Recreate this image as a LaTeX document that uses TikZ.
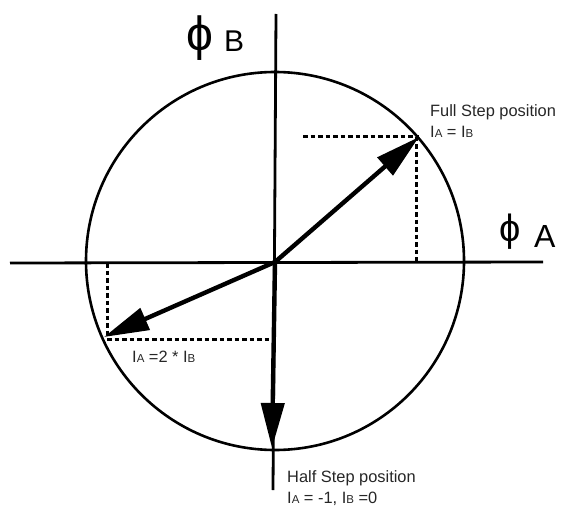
\documentclass[tikz,border=0pt]{standalone}
\usepackage{fontspec}
\setmainfont{Liberation Sans}
\usetikzlibrary{arrows.meta}
\newcommand\Isb[1]{I{\fontsize{11.5}{11.5}\selectfont #1}}
\begin{document}
\begin{tikzpicture}[x=1pt,y=-1pt,
  axis/.style={line width=2.8pt},
  ring/.style={line width=2.6pt},
  vec/.style={line width=4.4pt,-{Triangle[length=45pt,width=23pt]}},
  proj/.style={line width=3pt,dash pattern=on 4.5pt off 3pt},
  small/.style={font=\fontsize{16.4}{18}\selectfont,text=black!85,inner sep=0pt,anchor=base west},
  big/.style={inner sep=0pt,anchor=base west},
  phi/.style={inner sep=0pt,anchor=center}]
\useasboundingbox (0,0) rectangle (569,505);
% coordinates
\coordinate (C) at (275,261);
\coordinate (O) at (275,262);
\coordinate (HL) at (10,263);
\coordinate (HR) at (543,262);
\coordinate (VT) at (276,14);
\coordinate (VB) at (273,490);
\coordinate (F) at (419,137);
\coordinate (H) at (104,337);
\coordinate (D) at (272,448);
\coordinate (FH) at (303,137);
\coordinate (FV) at (416,262);
\coordinate (HV) at (107,263);
\coordinate (HH) at (275,339);
% axes and circle
\draw[axis] (HL) -- (HR);
\draw[axis] (VT) -- (VB);
\draw[ring] (C) circle[radius=189];
% projections
\draw[proj] (FH) -- (F);
\draw[proj] (F) ++(-3,0) |- (FV);
\draw[proj] (HV) -- (HV |- H);
\draw[proj] (HV |- HH) -- (HH);
% vectors
\draw[vec] (O) -- (F);
\draw[vec] (O) -- (H);
\draw[vec] (O) -- (D);
% labels
\node[phi,font=\fontsize{48}{48}\selectfont] (pb) at (200,38) {ϕ};
\node[big,font=\fontsize{30}{32}\selectfont] (lb) at (224,52) {B};
\node[phi,font=\fontsize{38}{38}\selectfont] (pa) at (510,232) {ϕ};
\node[big,font=\fontsize{32}{34}\selectfont] (la) at (534,247) {A};
\node[small] (fs) at (430,117) {Full Step position};
\node[small] (fe) at (430,138) {\Isb{A} = \Isb{B}};
\node[small] (he) at (132,362) {\Isb{A} =2 * \Isb{B}};
\node[small] (hs) at (287,482) {Half Step position};
\node[small] (hq) at (287,503) {\Isb{A} = -1, \Isb{B} =0};
\end{tikzpicture}
\end{document}
